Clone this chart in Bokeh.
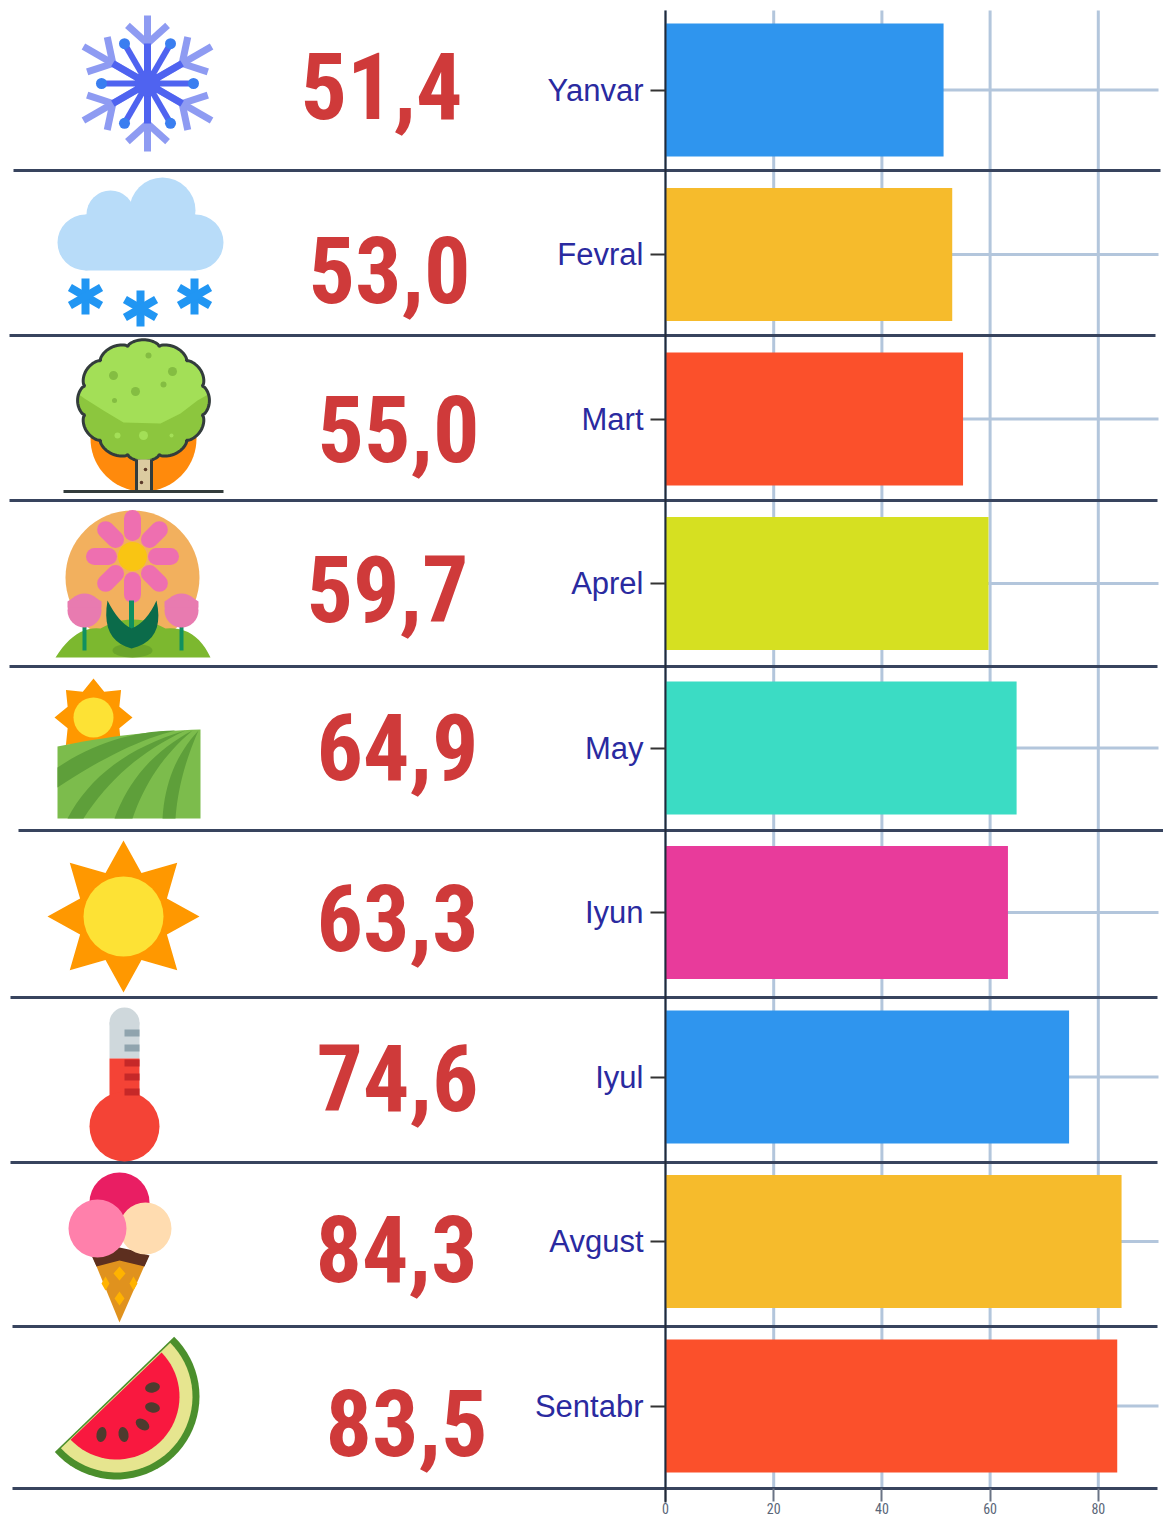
import math
from bokeh.plotting import figure
from bokeh.models import Range1d, LinearAxis, FixedTicker
from bokeh.core.properties import value
from bokeh.embed import file_html
from bokeh.resources import INLINE

months = ["Yanvar", "Fevral", "Mart", "Aprel", "May", "Iyun", "Iyul", "Avgust", "Sentabr"]
temps = [51.4, 53.0, 55.0, 59.7, 64.9, 63.3, 74.6, 84.3, 83.5]
bar_colors = ["#2f95ee", "#f6bb2c", "#fb502b", "#d6e021", "#3bdcc4", "#e83b9b", "#2f95ee", "#f6bb2c", "#fb502b"]
x_ticks = [0, 20, 40, 60, 80]

# big figure labels: page position of each one
label_x = [300, 308, 317, 306, 316, 316, 316, 315, 325]
label_mid = [85, 269, 428, 588, 746, 917, 1077, 1248, 1422]

# row separators: y, left end, right end
sep_y = [170, 335, 500, 666, 830, 997, 1162, 1326, 1488]
sep_x0 = [13, 9, 9, 9, 18, 10, 10, 12, 12]
sep_x1 = [1160, 1155, 1157, 1157, 1163, 1157, 1157, 1157, 1157]

PX_PER_UNIT = 5.41
X0_PAGE = 665
ROW_H = 164.5
ROW0 = 89.5
L, T, R, B = 0, 0, 1163, 1519


def xv(px):
    return (px - X0_PAGE) / PX_PER_UNIT


def yr(py):
    return (py - ROW0) / ROW_H


p = figure(width=R - L, height=B - T, output_backend="svg", toolbar_location=None,
           x_range=Range1d(xv(L), xv(R)), y_range=Range1d(yr(B), yr(T)),
           min_border=0, x_axis_type=None, y_axis_type=None)
p.outline_line_color = None
p.background_fill_color = "white"
p.grid.visible = False
p.extra_x_ranges["px"] = Range1d(L, R)
p.extra_y_ranges["px"] = Range1d(B, T)
PX = dict(x_range_name="px", y_range_name="px")
GRID = "#b3c6dc"

# grid
p.segment(x0=x_ticks, x1=x_ticks, y0=[10] * 5, y1=[1488] * 5, line_color=GRID, line_width=3, y_range_name="px")
rows = list(range(len(months)))
p.segment(x0=[0] * 9, x1=[xv(1158)] * 9, y0=rows, y1=rows, line_color=GRID, line_width=3)

# bars
p.hbar(y=rows, left=0, right=temps, height=0.808, fill_color=bar_colors, line_color=None)

# separators
p.segment(x0=sep_x0, x1=sep_x1, y0=sep_y, y1=sep_y, line_color="#38445e", line_width=3, **PX)

# axes
ya = LinearAxis(ticker=FixedTicker(ticks=rows), fixed_location=0,
                major_label_overrides={i: m for i, m in enumerate(months)})
ya.bounds = (yr(1502), yr(10))
ya.major_tick_out, ya.major_tick_in, ya.minor_tick_out, ya.minor_tick_in = 15, 0, 0, 0
ya.major_tick_line_color = "#333333"
ya.major_tick_line_width = 2
ya.axis_line_color = "#222a38"
ya.axis_line_width = 2
ya.major_label_text_font = "Liberation Sans"
ya.major_label_text_font_size = "31px"
ya.major_label_text_color = "#2a2aa0"
ya.major_label_standoff = 7
p.add_layout(ya, "left")

xa = LinearAxis(ticker=FixedTicker(ticks=x_ticks), fixed_location=yr(1488))
xa.major_tick_out, xa.major_tick_in, xa.minor_tick_out, xa.minor_tick_in = 13, 0, 0, 0
xa.major_tick_line_color = "#6a7485"
xa.major_tick_line_width = 2
xa.axis_line_color = None
xa.major_label_text_font = "Roboto Condensed"
xa.major_label_text_font_size = "14px"
xa.major_label_text_color = "#5a6678"
xa.major_label_standoff = 1
p.add_layout(xa, "below")

# big labels
p.text(x=label_x, y=label_mid, text=[f"{v:.1f}".replace(".", ",") for v in temps],
       text_font=value("Roboto Condensed"), text_font_style="bold", text_font_size="92px",
       text_color="#cf3a3a", text_baseline="middle", text_align="left", **PX)


# ---- icon helpers, in page pixels ----
def circ(x, y, r, c):
    p.circle(x=[x], y=[y], radius=r, fill_color=c, line_color=None, **PX)


def poly(pts, c, lc=None, lw=1):
    p.patch(x=[a for a, _ in pts], y=[b for _, b in pts], fill_color=c, line_color=lc, line_width=lw, **PX)


def seg(x0, y0, x1, y1, c, w, cap="butt"):
    p.segment(x0=[x0], y0=[y0], x1=[x1], y1=[y1], line_color=c, line_width=w, line_cap=cap, **PX)


def rect(x0, y0, x1, y1, c):
    poly([(x0, y0), (x1, y0), (x1, y1), (x0, y1)], c)


def ell(x, y, w, h, ang, c):
    p.ellipse(x=[x], y=[y], width=w, height=h, angle=ang, fill_color=c, line_color=None, **PX)


def polar(cx, cy, r, deg):
    return cx + r * math.cos(math.radians(deg)), cy + r * math.sin(math.radians(deg))


def star(cx, cy, ro, ri, c, n=8, start=-90):
    pts = []
    for k in range(n * 2):
        pts.append(polar(cx, cy, ro if k % 2 == 0 else ri, start + k * 180 / n))
    poly(pts, c)


def arc(cx, cy, r, a0, a1, n=40):
    return [polar(cx, cy, r, a0 + (a1 - a0) * k / n) for k in range(n + 1)]


def bez(a, b, c, n=16):
    out = []
    for k in range(n + 1):
        t = k / n
        out.append(((1 - t) ** 2 * a[0] + 2 * t * (1 - t) * b[0] + t * t * c[0],
                    (1 - t) ** 2 * a[1] + 2 * t * (1 - t) * b[1] + t * t * c[1]))
    return out


# snowflake
cx, cy = 147, 83
LB, DB, DOT = "#8e9bf2", "#4f63f0", "#3a7ef0"
for d in (-90, -30, 30, 90, 150, 210):
    reach = 68 if d in (-90, 90) else 74
    seg(cx, cy, *polar(cx, cy, reach, d), LB, 7)
    root = polar(cx, cy, 40, d)
    seg(*root, *polar(root[0], root[1], 27, d - 48), LB, 7)
    seg(*root, *polar(root[0], root[1], 27, d + 48), LB, 7)
    seg(cx, cy, *root, DB, 7)
for d in (0, 60, 120, 180, 240, 300):
    e = polar(cx, cy, 46, d)
    seg(cx, cy, *e, DB, 6)
    circ(e[0], e[1], 5.5, DOT)
circ(cx, cy, 13, DB)

# snow cloud
CL = "#b8dcf9"
circ(85, 242, 28, CL)
circ(195, 242, 28, CL)
circ(162, 210, 33, CL)
circ(110, 214, 24, CL)
rect(85, 214, 195, 270, CL)
for ax, ay in ((85, 296), (140, 308), (194, 296)):
    for d in (90, 30, 150):
        seg(*polar(ax, ay, 18, d), *polar(ax, ay, 18, d + 180), "#2196f3", 8)

# tree
poly(arc(143, 438, 53, -10, 190), "#ff8a0c")
blob = []
for k in range(240):
    a = k * 360 / 240
    rr = 0.95 + 0.08 * abs(math.cos(math.radians(a * 6))) ** 0.6
    blob.append((143 + 64 * rr * math.cos(math.radians(a)), 400 + 59 * rr * math.sin(math.radians(a))))
poly(blob, "#8cc63e")
light = [q for q in blob if q[1] < 394]
light.sort(key=lambda q: math.atan2(q[1] - 400, q[0] - 143))
poly(light + [(197, 400), (180, 413), (160, 423), (123, 422), (103, 410), (84, 398)], "#a3df57")
p.line(x=[q[0] for q in blob] + [blob[0][0]], y=[q[1] for q in blob] + [blob[0][1]],
       line_color="#333c3c", line_width=3, **PX)
for sx, sy, sr, sc in ((113, 375, 4.5, "#84bd42"), (172, 371, 4.5, "#84bd42"), (135, 391, 4.5, "#84bd42"),
                        (163, 384, 3, "#84bd42"), (148, 355, 3, "#84bd42"), (114, 400, 2.5, "#84bd42"),
                        (143, 435, 4.5, "#a3df57"), (117, 435, 3, "#a3df57"), (171, 435, 2, "#a3df57")):
    circ(sx, sy, sr, sc)
rect(136, 459, 151, 490, "#dccba0")
seg(136, 459, 136, 490, "#333c3c", 3)
seg(151, 459, 151, 490, "#333c3c", 3)
circ(145, 469, 1.8, "#5b3a29")
circ(141, 482, 1.8, "#5b3a29")
seg(63, 491, 223, 491, "#333c3c", 3)

# flower
circ(132, 577, 67, "#f2b05e")
poly(bez((55, 657), (75, 625), (100, 628), 12) + bez((100, 628), (132, 610), (165, 628), 12)
     + bez((165, 628), (195, 625), (210, 657), 12), "#7cb82f")
ell(132, 650, 40, 14, 0, "#6aa52a")
for d in range(0, 360, 45):
    a0 = polar(132, 556, 24, d)
    a1 = polar(132, 556, 38, d)
    seg(a0[0], a0[1], a1[0], a1[1], "#ee6fb0", 17, "round")
circ(132, 556, 14.5, "#f9c513")
seg(131, 600, 131, 630, "#109060", 5)
poly(bez((107, 600), (118, 622), (131, 628), 8) + bez((131, 628), (146, 622), (156, 600), 8)
     + bez((156, 600), (165, 640), (131, 648), 10) + bez((131, 648), (100, 640), (107, 600), 10), "#0b6b4a")
for tx in (84, 181):
    seg(tx, 625, tx, 650, "#109060", 4)
    circ(tx, 610, 17, "#e87bb0")
    poly([(tx - 17, 607), (tx - 17, 601), (tx - 11, 597), (tx - 6, 601), (tx, 597), (tx + 6, 601), (tx + 11, 597),
          (tx + 17, 601), (tx + 17, 607)], "#e87bb0")

# field
star(93, 717, 39, 28, "#ff9800")
circ(93, 717, 20, "#fde235")
poly(bez((57, 746), (130, 731), (200, 729)) + [(200, 818), (57, 818)], "#7cbc4c")
for a, b, ca, cb, tip in (((57, 767), (57, 787), (110, 731), (125, 742), (175, 730)),
                          ((67, 818), (83, 818), (100, 755), (120, 760), (185, 730)),
                          ((114, 818), (132, 818), (135, 760), (150, 765), (192, 730)),
                          ((162, 818), (175, 818), (165, 765), (178, 775), (198, 730))):
    poly(bez(a, ca, tip) + bez(tip, cb, b), "#5e9f3a")

# big sun
star(123, 916, 76, 47, "#ff9800")
circ(123, 916, 40, "#fde235")

# thermometer
circ(124, 1022, 15, "#cfd8dc")
rect(109, 1022, 139, 1058, "#cfd8dc")
rect(109, 1058, 139, 1105, "#f44336")
circ(124, 1126, 35, "#f44336")
for my, mc in ((1029, "#90a4ae"), (1044, "#90a4ae"), (1059, "#c62828"), (1073, "#c62828"), (1088, "#c62828")):
    rect(124, my, 139, my + 7, mc)

# ice cream
poly([(92, 1256), (148, 1256), (119, 1322)], "#e0921e")
for dx, dy, hw in ((119, 1273, 6), (119, 1298, 5), (105, 1283, 4), (133, 1283, 4)):
    poly([(dx, dy - 7), (dx + hw, dy), (dx, dy + 7), (dx - hw, dy)], "#ffb300")
circ(119, 1202, 30, "#e91e63")
poly([(91, 1255), (105, 1250), (119, 1247), (133, 1250), (149, 1255), (144, 1266), (119, 1260), (96, 1266)], "#5d2f1f")
circ(145, 1228, 26, "#ffdcb0")
circ(97, 1228, 29, "#ff80ab")

# watermelon
mx, my = 116, 1396
poly(arc(mx, my, 83, -46, 138), "#4b8f2c")
poly(arc(mx, my, 76, -45, 137), "#e6e58f")
poly(arc(mx, my, 63, -44.3, 136.8), "#f9183f")
for sx, sy, ang in ((152, 1387, 0.2), (152, 1407, -0.2), (142, 1424, -0.6), (123, 1434, -1.4), (101, 1434, 1.4)):
    ell(sx, sy, 15, 10, ang, "#4e3b2e")

open("out.html", "w").write(file_html(p, INLINE))
